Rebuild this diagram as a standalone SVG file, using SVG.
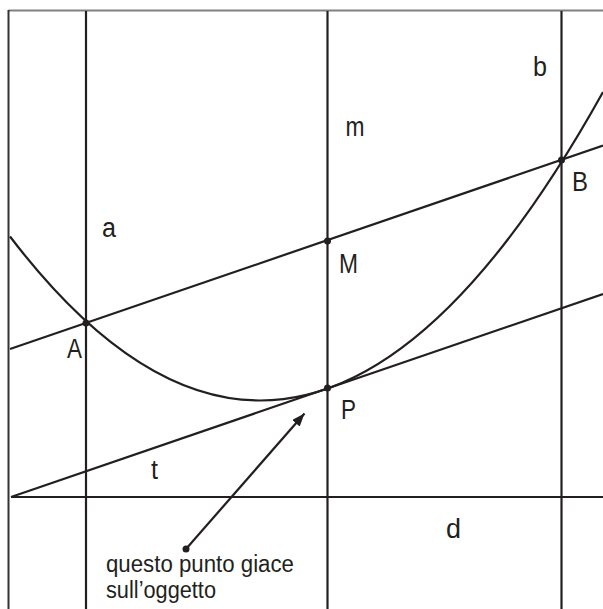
<svg xmlns="http://www.w3.org/2000/svg" width="603" height="609" viewBox="0 0 603 609">
  <defs>
    <style>
      .ln { stroke: #231f20; stroke-width: 2.2; fill: none; }
      .pt { fill: #231f20; }
      .lbl { font-family: "Liberation Sans", Arial, sans-serif; font-size: 27px; fill: #231f20; }
      .txt { font-family: "Liberation Sans", Arial, sans-serif; font-size: 23px; fill: #231f20; }
    </style>
    <marker id="arr" markerWidth="14" markerHeight="12" refX="13" refY="5" orient="auto" markerUnits="userSpaceOnUse">
      <path d="M0,0 L13,5 L0,10 Z" fill="#231f20"/>
    </marker>
  </defs>
  <rect width="603" height="609" fill="#ffffff"/>
  <g id="frame">
    <line x1="8.5" y1="10.5" x2="603" y2="10.5" stroke="#808080" stroke-width="2"/>
    <line x1="8.5" y1="10" x2="8.5" y2="609" stroke="#333333" stroke-width="2"/>
  </g>
  <g id="connectors">
    <line id="line-a" class="ln" x1="86" y1="11" x2="86" y2="609"/>
    <line id="line-m" class="ln" x1="327.5" y1="11" x2="327.5" y2="609"/>
    <line id="line-b" class="ln" x1="561.5" y1="11" x2="561.5" y2="609"/>
    <line id="line-d" class="ln" x1="11" y1="497" x2="603" y2="497"/>
    <line id="line-AB" class="ln" x1="10" y1="349" x2="603" y2="145.6"/>
    <line id="line-t" class="ln" x1="11" y1="497" x2="603" y2="294"/>
    <path id="parabola" class="ln" d="M10,236.5 Q306.5,625.4 603,92"/>
    <line id="arrow" class="ln" x1="186" y1="549" x2="304.5" y2="413.5" marker-end="url(#arr)"/>
  </g>
  <g id="point-A"><circle class="pt" cx="86" cy="323" r="3.5"/><text class="lbl" x="67" y="358" textLength="15" lengthAdjust="spacingAndGlyphs">A</text></g>
  <g id="point-B"><circle class="pt" cx="561.5" cy="160" r="3.5"/><text class="lbl" x="572" y="191" textLength="16" lengthAdjust="spacingAndGlyphs">B</text></g>
  <g id="point-M"><circle class="pt" cx="327.5" cy="241" r="3.5"/><text class="lbl" x="339" y="273" textLength="19" lengthAdjust="spacingAndGlyphs">M</text></g>
  <g id="point-P"><circle class="pt" cx="327.5" cy="388" r="3.5"/><text class="lbl" x="341" y="419" textLength="15" lengthAdjust="spacingAndGlyphs">P</text></g>
  <g id="label-a"><text class="lbl" x="102" y="237" textLength="14" lengthAdjust="spacingAndGlyphs">a</text></g>
  <g id="label-m"><text class="lbl" x="345.5" y="136" textLength="19" lengthAdjust="spacingAndGlyphs">m</text></g>
  <g id="label-b"><text class="lbl" x="533" y="76" textLength="14" lengthAdjust="spacingAndGlyphs">b</text></g>
  <g id="label-t"><text class="lbl" x="151" y="479" textLength="7" lengthAdjust="spacingAndGlyphs">t</text></g>
  <g id="label-d"><text class="lbl" x="446" y="538" textLength="15" lengthAdjust="spacingAndGlyphs">d</text></g>
  <g id="note">
    <circle class="pt" cx="186" cy="549" r="3.5"/>
    <text class="txt" x="106" y="572" textLength="188" lengthAdjust="spacingAndGlyphs">questo punto giace</text>
    <text class="txt" x="106" y="598" textLength="110" lengthAdjust="spacingAndGlyphs">sull’oggetto</text>
  </g>
</svg>
